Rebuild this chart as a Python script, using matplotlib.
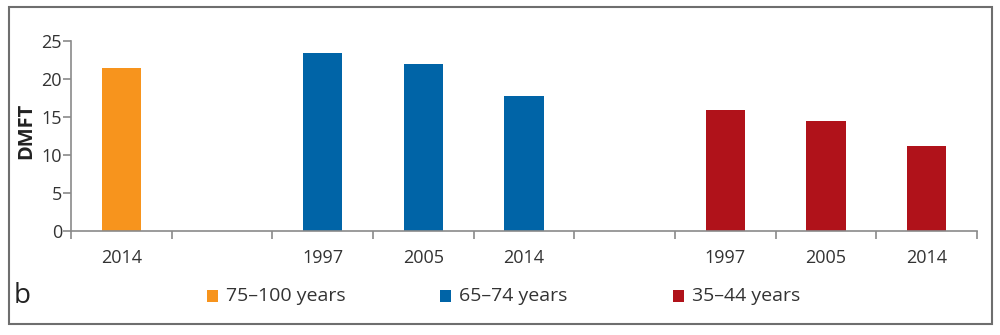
import matplotlib

matplotlib.use('Agg')
import matplotlib.pyplot as plt
from matplotlib.patches import Rectangle

plt.rcParams['font.family'] = ['Open Sans', 'DejaVu Sans']

# DMFT by survey year and age group
groups = ['75\u2013100 years', '65\u201374 years', '35\u201344 years']
group_colors = ['#F7941D', '#0064A7', '#B0121A']
years = [['2014'], ['1997', '2005', '2014'], ['1997', '2005', '2014']]
dmft = [[21.4], [23.4, 22.0, 17.7], [15.9, 14.4, 11.2]]

tick_col = '#333333'
axis_col = '#8a8a8a'

fig = plt.figure(figsize=(10, 3.35), dpi=100)
ax = fig.add_axes([0.071, 0.3113, 0.906, 0.5672])

# one empty slot between the age groups
pos = 0
centers, labels = [], []
for g, (yrs, vals, col) in enumerate(zip(years, dmft, group_colors)):
    xs = list(range(pos, pos + len(yrs)))
    ax.bar(xs, vals, width=0.39, color=col, zorder=2)
    centers += xs
    labels += yrs
    pos += len(yrs) + 1
n_slots = pos - 1

ax.set_xlim(-0.5, n_slots - 0.5)
ax.set_ylim(0, 25)
ax.set_yticks([0, 5, 10, 15, 20, 25])
ax.set_xticks(centers)
ax.set_xticklabels(labels)
ax.set_xticks([i - 0.5 for i in range(n_slots + 1)], minor=True)

for s in ['top', 'right']:
    ax.spines[s].set_visible(False)
for s in ['left', 'bottom']:
    ax.spines[s].set_color(axis_col)
    ax.spines[s].set_linewidth(1.2)

ax.tick_params(axis='x', which='major', length=0, pad=13, labelsize=13, labelcolor=tick_col)
ax.tick_params(axis='x', which='minor', length=6, width=1.2, color=axis_col)
ax.tick_params(axis='y', length=5.5, width=1.2, color=axis_col, pad=1, labelsize=13,
               labelcolor=tick_col)

fig.text(0.0267, 1 - 131 / 335, 'DMFT', rotation=90, ha='center', va='center',
         fontsize=14.5, fontweight='bold', color='#222222')

# legend row along the bottom
fig.text(0.014, 1 - 296 / 335, 'b', ha='left', va='center', fontsize=20, color='#222222')
leg_x = [0.207, 0.440, 0.673]
for lx, name, col in zip(leg_x, groups, group_colors):
    fig.patches.append(Rectangle((lx, 1 - 302 / 335), 0.011, 12 / 335, transform=fig.transFigure,
                                 facecolor=col, edgecolor='none'))
    fig.text(lx + 0.019, 1 - 296 / 335, name, ha='left', va='center', fontsize=14,
             color=tick_col)

# outer frame
fig.patches.append(Rectangle((0.009, 1 - 324 / 335), 0.983, 317 / 335, transform=fig.transFigure,
                             facecolor='none', edgecolor='#6e6e6e', linewidth=1.5))

plt.savefig('out.png', dpi=100)
plt.close()
